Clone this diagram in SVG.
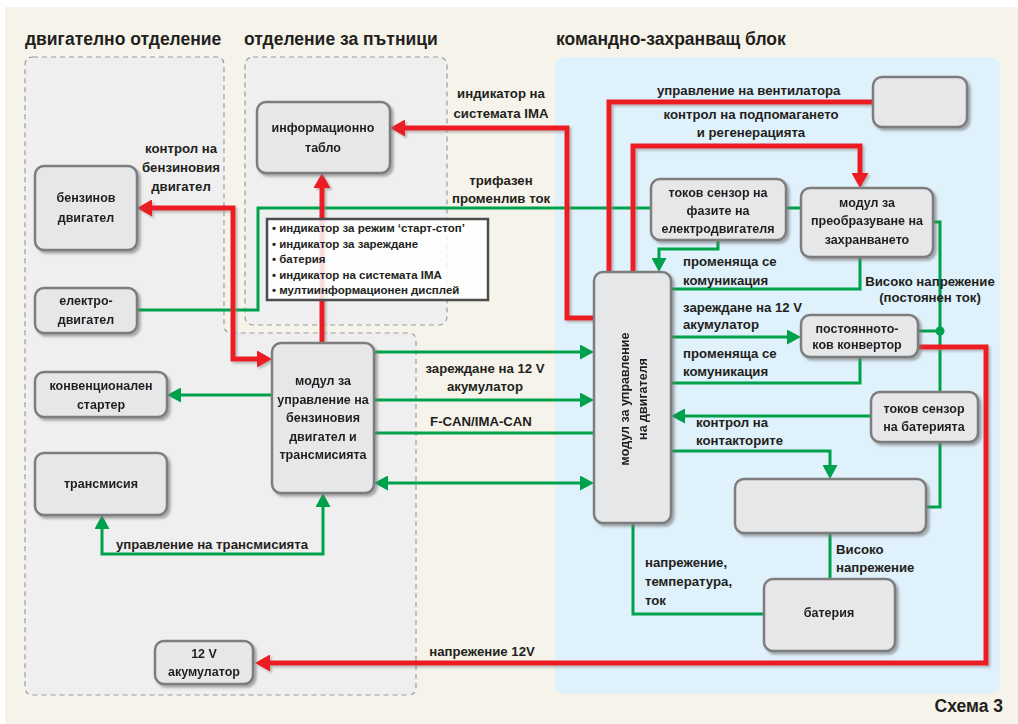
<svg xmlns="http://www.w3.org/2000/svg" width="1018" height="724" viewBox="0 0 1018 724">
<style>
text{font-family:"Liberation Sans",Arial,sans-serif;font-weight:bold;fill:#231f20}
.t{font-size:17.5px}
.l{font-size:13.2px}
.n{font-size:12.5px;text-anchor:middle}
.c{text-anchor:middle}
.b{font-size:11.5px}
.node rect{fill:#e6e7e9;stroke:#7d7d7d;stroke-width:2.5}
.g{fill:none;stroke:#00a14b;stroke-width:3}
.r{fill:none;stroke:#ec1c24;stroke-width:5;stroke-linejoin:miter}
.reg{fill:#efefef;stroke:#9a9a9a;stroke-width:1.2;stroke-dasharray:5 4}
</style>
<defs>
<filter id="sh" x="-10%" y="-10%" width="130%" height="130%"><feDropShadow dx="2.5" dy="2.5" stdDeviation="1" flood-color="#777" flood-opacity="0.6"/></filter>
<filter id="rsh" x="-5%" y="-5%" width="110%" height="110%"><feDropShadow dx="2" dy="2" stdDeviation="0.8" flood-color="#888" flood-opacity="0.55"/></filter>
<marker id="ag" viewBox="0 0 14 15" refX="10" refY="7.5" markerWidth="14" markerHeight="15" markerUnits="userSpaceOnUse" orient="auto-start-reverse"><path d="M0,0 L14,7.5 L0,15 Z" fill="#00a14b"/></marker>
<marker id="ar" viewBox="0 0 15 17" refX="9" refY="8.5" markerWidth="15" markerHeight="17" markerUnits="userSpaceOnUse" orient="auto-start-reverse"><path d="M0,0 L15,8.5 L0,17 Z" fill="#ec1c24"/></marker>
</defs>

<rect x="5" y="7" width="1013" height="717" fill="#f6f4ea"/>

<g id="regions">
<path class="reg" d="M33,57 H216 Q224,57 224,65 V325 Q224,333 232,333 H408 Q416,333 416,341 V687 Q416,695 408,695 H33 Q25,695 25,687 V65 Q25,57 33,57 Z"/>
<rect class="reg" x="245" y="57" width="202" height="268" rx="8"/>
<rect x="555" y="57" width="445" height="637" rx="9" fill="#dff1fb"/>
</g>

<g id="titles">
<text class="t" x="25" y="45">двигателно отделение</text>
<text class="t" x="244" y="45">отделение за пътници</text>
<text class="t" x="556" y="45">командно-захранващ блок</text>
<text class="t" x="1003" y="712" text-anchor="end">Схема 3</text>
</g>

<g id="connectors">
<g id="green">
<path class="g" d="M137,310 H258 V208 H651"/>
<path class="g" d="M786,208 H801"/>
<path class="g" d="M718,240 V249 H659 V268" marker-end="url(#ag)"/>
<path class="g" d="M860,257 V289 H671"/>
<path class="g" d="M671,337 H797" marker-end="url(#ag)"/>
<path class="g" d="M860,357 V383 H671"/>
<path class="g" d="M871,416 H675" marker-end="url(#ag)"/>
<path class="g" d="M671,451 H830 V475" marker-end="url(#ag)"/>
<path class="g" d="M933,222 H940 V507 H926"/>
<path class="g" d="M918,331 H940"/>
<circle cx="940" cy="331" r="4.5" fill="#00a14b"/>
<path class="g" d="M830,533 V579"/>
<path class="g" d="M633,523 V614 H764"/>
<path class="g" d="M374,352 H590" marker-end="url(#ag)"/>
<path class="g" d="M374,400 H590" marker-end="url(#ag)"/>
<path class="g" d="M374,433 H594"/>
<path class="g" d="M378,483 H590" marker-start="url(#ag)" marker-end="url(#ag)"/>
<path class="g" d="M272,395 H171" marker-end="url(#ag)"/>
<path class="g" d="M102,519 V554 H323 V497" marker-start="url(#ag)" marker-end="url(#ag)"/>
</g>
<g id="red" filter="url(#rsh)">
<path class="r" d="M594,318 H567 V128 H396" marker-end="url(#ar)"/>
<path class="r" d="M322,343 V179" marker-end="url(#ar)"/>
<path class="r" d="M143,208 H233 V359 H266" marker-start="url(#ar)" marker-end="url(#ar)"/>
<path class="r" d="M609,272 V102 H873"/>
<path class="r" d="M633,272 V146 H860 V182" marker-end="url(#ar)"/>
<path class="r" d="M918,347 H986 V663 H261" marker-end="url(#ar)"/>
</g>
</g>

<g id="labels">
<text class="l c" x="181" y="153">контрол на</text>
<text class="l c" x="181" y="172">бензиновия</text>
<text class="l c" x="181" y="191">двигател</text>
<text class="l c" x="501" y="98">индикатор на</text>
<text class="l c" x="501" y="118">системата IMA</text>
<text class="l c" x="501" y="185">трифазен</text>
<text class="l c" x="501" y="203">променлив ток</text>
<text class="l" x="657" y="95">управление на вентилатора</text>
<text class="l c" x="751" y="119">контрол на подпомагането</text>
<text class="l c" x="751" y="137">и регенерацията</text>
<text class="l" x="683" y="266">променяща се</text>
<text class="l" x="683" y="285">комуникация</text>
<text class="l" x="683" y="312">зареждане на 12 V</text>
<text class="l" x="683" y="329">акумулатор</text>
<text class="l" x="683" y="358">променяща се</text>
<text class="l" x="683" y="376">комуникация</text>
<text class="l" x="696" y="427">контрол на</text>
<text class="l" x="696" y="445">контакторите</text>
<text class="l c" x="930" y="286">Високо напрежение</text>
<text class="l c" x="930" y="302">(постоянен ток)</text>
<text class="l c" x="485" y="373">зареждане на 12 V</text>
<text class="l c" x="485" y="391">акумулатор</text>
<text class="l c" x="481" y="426">F-CAN/IMA-CAN</text>
<text class="l c" x="212" y="549">управление на трансмисията</text>
<text class="l c" x="482" y="656">напрежение 12V</text>
<text class="l" x="645" y="567">напрежение,</text>
<text class="l" x="645" y="586">температура,</text>
<text class="l" x="645" y="605">ток</text>
<text class="l" x="836" y="554">Високо</text>
<text class="l" x="836" y="572">напрежение</text>
</g>

<g id="node-benzinov" class="node" filter="url(#sh)">
<rect x="35" y="166" width="102" height="84" rx="9"/>
<text class="n" x="86" y="202">бензинов</text>
<text class="n" x="86" y="222">двигател</text>
</g>
<g id="node-elektro" class="node" filter="url(#sh)">
<rect x="35" y="288" width="102" height="45" rx="9"/>
<text class="n" x="86" y="305">електро-</text>
<text class="n" x="86" y="324">двигател</text>
</g>
<g id="node-starter" class="node" filter="url(#sh)">
<rect x="35" y="372" width="132" height="45" rx="9"/>
<text class="n" x="101" y="390">конвенционален</text>
<text class="n" x="101" y="409">стартер</text>
</g>
<g id="node-transmisia" class="node" filter="url(#sh)">
<rect x="35" y="453" width="132" height="62" rx="9"/>
<text class="n" x="101" y="488">трансмисия</text>
</g>
<g id="node-modul-benz" class="node" filter="url(#sh)">
<rect x="272" y="343" width="102" height="150" rx="9"/>
<text class="n" x="323" y="385">модул за</text>
<text class="n" x="323" y="404">управление на</text>
<text class="n" x="323" y="422">бензиновия</text>
<text class="n" x="323" y="441">двигател и</text>
<text class="n" x="323" y="459">трансмисията</text>
</g>
<g id="node-tablo" class="node" filter="url(#sh)">
<rect x="257" y="102" width="133" height="71" rx="9"/>
<text class="n" x="323" y="132">информационно</text>
<text class="n" x="323" y="152">табло</text>
</g>
<g id="node-list">
<rect x="267" y="219" width="221" height="81" fill="#ffffff" fill-opacity="0.85" stroke="#4d4d4d" stroke-width="2.5"/>
<text class="b" x="272" y="232">• индикатор за режим ‘старт-стоп’</text>
<text class="b" x="272" y="247.5">• индикатор за зареждане</text>
<text class="b" x="272" y="263">• батерия</text>
<text class="b" x="272" y="278.5">• индикатор на системата IMA</text>
<text class="b" x="272" y="294">• мултиинформационен дисплей</text>
</g>
<g id="node-modul-dvig" class="node" filter="url(#sh)">
<rect x="594" y="272" width="77" height="251" rx="9"/>
<text class="n" transform="rotate(-90)" x="-399" y="629">модул за управление</text>
<text class="n" transform="rotate(-90)" x="-399" y="647">на двигателя</text>
</g>
<g id="node-ventilator" class="node" filter="url(#sh)">
<rect x="873" y="77" width="94" height="50" rx="9"/>
</g>
<g id="node-sensor-fazi" class="node" filter="url(#sh)">
<rect x="651" y="179" width="135" height="61" rx="9"/>
<text class="n" x="718" y="197">токов сензор на</text>
<text class="n" x="718" y="215">фазите на</text>
<text class="n" x="718" y="233">електродвигателя</text>
</g>
<g id="node-preobrazuvane" class="node" filter="url(#sh)">
<rect x="801" y="188" width="132" height="69" rx="9"/>
<text class="n" x="867" y="207">модул за</text>
<text class="n" x="867" y="225">преобразуване на</text>
<text class="n" x="867" y="244">захранването</text>
</g>
<g id="node-konvertor" class="node" filter="url(#sh)">
<rect x="801" y="315" width="117" height="42" rx="9"/>
<text class="n" x="857" y="333">постоянното-</text>
<text class="n" x="857" y="349">ков конвертор</text>
</g>
<g id="node-sensor-bat" class="node" filter="url(#sh)">
<rect x="871" y="392" width="107" height="50" rx="9"/>
<text class="n" x="924" y="413">токов сензор</text>
<text class="n" x="924" y="431">на батерията</text>
</g>
<g id="node-empty" class="node" filter="url(#sh)">
<rect x="735" y="479" width="191" height="54" rx="9"/>
</g>
<g id="node-bateria" class="node" filter="url(#sh)">
<rect x="764" y="579" width="131" height="72" rx="9"/>
<text class="n" x="829" y="617">батерия</text>
</g>
<g id="node-akumulator" class="node" filter="url(#sh)">
<rect x="155" y="641" width="98" height="43" rx="9"/>
<text class="n" x="204" y="658">12 V</text>
<text class="n" x="204" y="676">акумулатор</text>
</g>
</svg>
